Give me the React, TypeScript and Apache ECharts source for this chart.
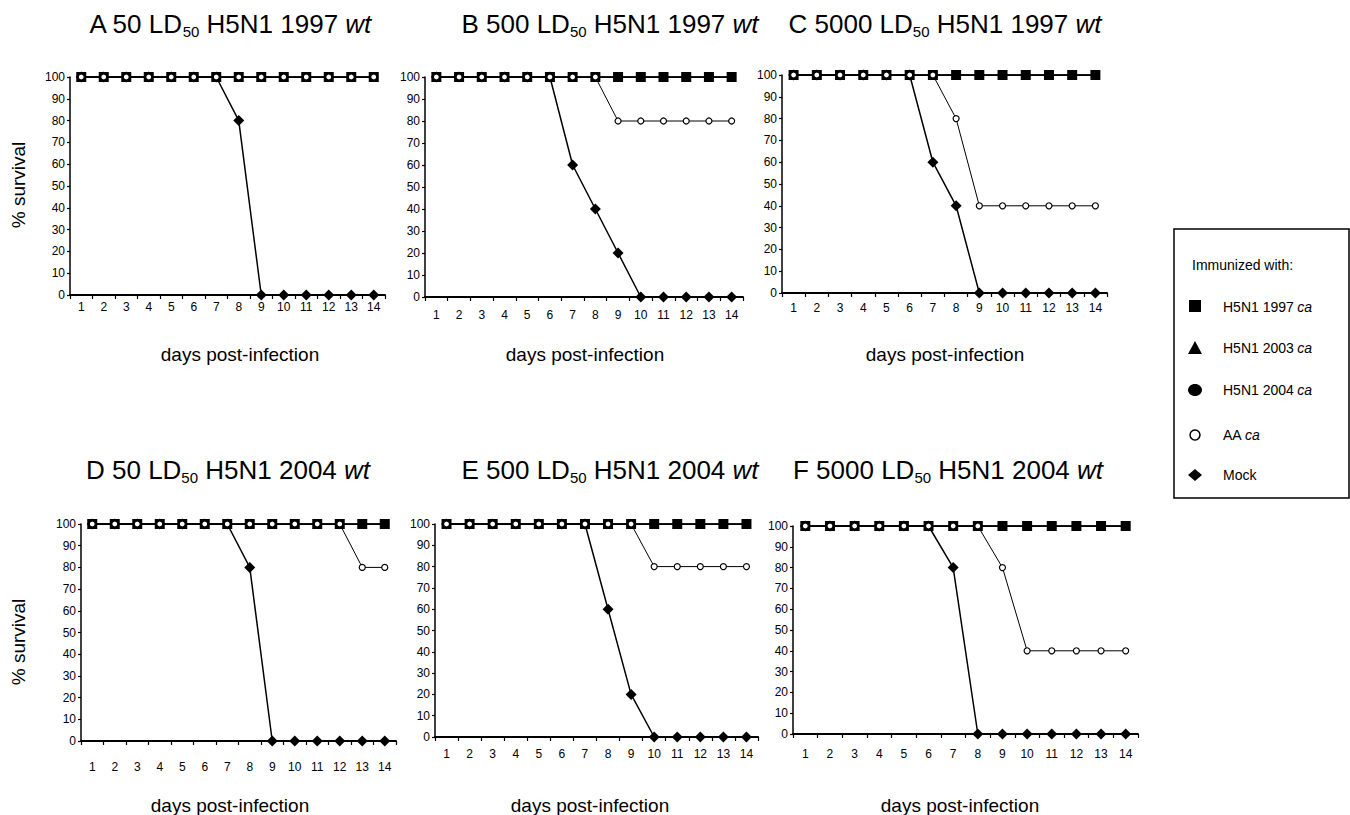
import React, { useEffect, useRef } from "react";
import * as echarts from "echarts";

const days = ["1", "2", "3", "4", "5", "6", "7", "8", "9", "10", "11", "12", "13", "14"];
const yTicks = [0, 10, 20, 30, 40, 50, 60, 70, 80, 90, 100];

// Protected groups (all panels)
const h5n1_1997 = [100, 100, 100, 100, 100, 100, 100, 100, 100, 100, 100, 100, 100, 100];
const h5n1_2003 = [100, 100, 100, 100, 100, 100, 100, 100, 100, 100, 100, 100, 100, 100];
const h5n1_2004 = [100, 100, 100, 100, 100, 100, 100, 100, 100, 100, 100, 100, 100, 100];

// Panel A
const aAA = [100, 100, 100, 100, 100, 100, 100, 100, 100, 100, 100, 100, 100, 100];
const aMock = [100, 100, 100, 100, 100, 100, 100, 80, 0, 0, 0, 0, 0, 0];
// Panel B
const bAA = [100, 100, 100, 100, 100, 100, 100, 100, 80, 80, 80, 80, 80, 80];
const bMock = [100, 100, 100, 100, 100, 100, 60, 40, 20, 0, 0, 0, 0, 0];
// Panel C
const cAA = [100, 100, 100, 100, 100, 100, 100, 80, 40, 40, 40, 40, 40, 40];
const cMock = [100, 100, 100, 100, 100, 100, 60, 40, 0, 0, 0, 0, 0, 0];
// Panel D
const dAA = [100, 100, 100, 100, 100, 100, 100, 100, 100, 100, 100, 100, 80, 80];
const dMock = [100, 100, 100, 100, 100, 100, 100, 80, 0, 0, 0, 0, 0, 0];
// Panel E
const eAA = [100, 100, 100, 100, 100, 100, 100, 100, 100, 80, 80, 80, 80, 80];
const eMock = [100, 100, 100, 100, 100, 100, 100, 60, 20, 0, 0, 0, 0, 0];
// Panel F
const fAA = [100, 100, 100, 100, 100, 100, 100, 100, 80, 40, 40, 40, 40, 40];
const fMock = [100, 100, 100, 100, 100, 100, 80, 0, 0, 0, 0, 0, 0, 0];

const panelLetters = ["A", "B", "C", "D", "E", "F"];
const panelDoses = ["50", "500", "5000", "50", "500", "5000"];
const panelStrains = ["1997", "1997", "1997", "2004", "2004", "2004"];
const aaSeries = [aAA, bAA, cAA, dAA, eAA, fAA];
const mockSeries = [aMock, bMock, cMock, dMock, eMock, fMock];

const legendNames = ["H5N1 1997", "H5N1 2003", "H5N1 2004", "AA", "Mock"];

// layout (pixels)
const grids = [
  { left: 70, top: 77, width: 315, height: 218 },
  { left: 425, top: 77, width: 318, height: 220 },
  { left: 782, top: 75, width: 325, height: 218 },
  { left: 81, top: 524, width: 315, height: 217 },
  { left: 435, top: 524, width: 323, height: 213 },
  { left: 793, top: 526, width: 345, height: 208 },
];
const xLabelMargins = [6, 12, 9, 20, 11, 14];
const titlePos = [
  [230, 24], [610, 24], [945, 24],
  [228, 470], [610, 470], [948, 470],
];
const xNamePos = [
  [240, 354], [585, 354], [945, 354],
  [230, 805], [590, 805], [960, 805],
];

const FONT = "'Liberation Sans', Arial, Helvetica, sans-serif";
const NARROW = "'Liberation Sans Narrow', 'Liberation Sans', Arial, sans-serif";

export default function App() {
  const ref = useRef<HTMLDivElement>(null);

  useEffect(() => {
    if (!ref.current) return;
    const chart = echarts.init(ref.current, undefined, { renderer: "svg" });

    const xAxis: any[] = [];
    const yAxis: any[] = [];
    const grid: any[] = [];
    const series: any[] = [];
    const graphic: any[] = [];

    for (let i = 0; i < 6; i++) {
      grid.push({ ...grids[i], containLabel: false });
      xAxis.push({
        type: "category",
        gridIndex: i,
        data: days,
        boundaryGap: true,
        axisLine: { show: true, lineStyle: { color: "#000", width: 2 } },
        axisTick: { show: true, length: 4, lineStyle: { color: "#000", width: 1.2 } },
        axisLabel: {
          interval: 0,
          color: "#000",
          fontSize: 12,
          fontFamily: NARROW,
          margin: xLabelMargins[i],
        },
        splitLine: { show: false },
      });
      yAxis.push({
        type: "value",
        gridIndex: i,
        min: 0,
        max: 100,
        interval: 10,
        axisLine: { show: true, lineStyle: { color: "#000", width: 1.5 } },
        axisTick: { show: true, length: 3, lineStyle: { color: "#000", width: 1.2 } },
        axisLabel: { color: "#000", fontSize: 12, fontFamily: NARROW, margin: 5 },
        splitLine: { show: false },
      });

      const common = {
        type: "line",
        xAxisIndex: i,
        yAxisIndex: i,
        showSymbol: true,
        showAllSymbol: true,
        silent: true,
        emphasis: { disabled: true },
      };
      series.push({
        ...common,
        name: "Mock",
        data: mockSeries[i],
        symbol: "diamond",
        symbolSize: 11,
        lineStyle: { color: "#000", width: 1.5 },
        itemStyle: { color: "#000" },
      });
      series.push({
        ...common,
        name: "H5N1 2004",
        data: h5n1_2004,
        symbol: "circle",
        symbolSize: 9,
        lineStyle: { color: "#000", width: 1.5 },
        itemStyle: { color: "#000" },
      });
      series.push({
        ...common,
        name: "H5N1 2003",
        data: h5n1_2003,
        symbol: "triangle",
        symbolSize: 9,
        lineStyle: { color: "#000", width: 1.5 },
        itemStyle: { color: "#000" },
      });
      series.push({
        ...common,
        name: "H5N1 1997",
        data: h5n1_1997,
        symbol: "rect",
        symbolSize: 10,
        lineStyle: { color: "#000", width: 1.5 },
        itemStyle: { color: "#000" },
      });
      series.push({
        ...common,
        name: "AA",
        data: aaSeries[i],
        symbol: "circle",
        symbolSize: 6,
        lineStyle: { color: "#000", width: 1 },
        itemStyle: { color: "#fff", borderColor: "#000", borderWidth: 1.2 },
      });

      // panel title
      graphic.push({
        type: "text",
        x: titlePos[i][0],
        y: titlePos[i][1],
        silent: true,
        style: {
          text: `{m|${panelLetters[i]} ${panelDoses[i]} LD}{s|50}{m| H5N1 ${panelStrains[i]} }{i|wt}`,
          align: "center",
          verticalAlign: "middle",
          fill: "#000",
          rich: {
            m: { fontSize: 26, fontFamily: FONT, lineHeight: 30, fill: "#000" },
            s: { fontSize: 15, fontFamily: FONT, lineHeight: 12, verticalAlign: "bottom", fill: "#000" },
            i: { fontSize: 26, fontFamily: FONT, fontStyle: "italic", lineHeight: 30, fill: "#000" },
          },
        },
      });
      // x axis name
      graphic.push({
        type: "text",
        x: xNamePos[i][0],
        y: xNamePos[i][1],
        silent: true,
        style: {
          text: "days post-infection",
          align: "center",
          verticalAlign: "middle",
          fontSize: 19,
          fontFamily: FONT,
          fill: "#000",
        },
      });
    }

    // y axis names
    [185, 642].forEach((yy) => {
      graphic.push({
        type: "text",
        x: 18,
        y: yy,
        rotation: Math.PI / 2,
        silent: true,
        style: {
          text: "% survival",
          align: "center",
          verticalAlign: "middle",
          fontSize: 19,
          fontFamily: FONT,
          fill: "#000",
        },
      });
    });

    // legend box
    const lx = 1195;
    const tx = 1223;
    const ys = [307, 348, 390, 435, 475];
    graphic.push({
      type: "rect",
      silent: true,
      shape: { x: 1174, y: 229, width: 175, height: 269 },
      style: { fill: "#fff", stroke: "#000", lineWidth: 1.5 },
    });
    graphic.push({
      type: "text",
      x: 1192,
      y: 265,
      silent: true,
      style: { text: "Immunized with:", fontSize: 14, fontFamily: FONT, fill: "#000", verticalAlign: "middle" },
    });
    graphic.push({
      type: "rect",
      silent: true,
      shape: { x: lx - 6, y: ys[0] - 7, width: 12, height: 12 },
      style: { fill: "#000" },
    });
    graphic.push({
      type: "polygon",
      silent: true,
      shape: { points: [[lx, ys[1] - 7], [lx - 7, ys[1] + 6], [lx + 7, ys[1] + 6]] },
      style: { fill: "#000" },
    });
    graphic.push({
      type: "ellipse",
      silent: true,
      shape: { cx: lx, cy: ys[2], rx: 7, ry: 6 },
      style: { fill: "#000" },
    });
    graphic.push({
      type: "circle",
      silent: true,
      shape: { cx: lx, cy: ys[3], r: 5 },
      style: { fill: "#fff", stroke: "#000", lineWidth: 1.5 },
    });
    graphic.push({
      type: "polygon",
      silent: true,
      shape: { points: [[lx, ys[4] - 6], [lx + 7, ys[4]], [lx, ys[4] + 6], [lx - 7, ys[4]]] },
      style: { fill: "#000" },
    });
    legendNames.forEach((n, k) => {
      const italic = k < 4 ? " {i|ca}" : "";
      graphic.push({
        type: "text",
        x: tx,
        y: ys[k],
        silent: true,
        style: {
          text: `{n|${n}}${italic}`,
          verticalAlign: "middle",
          fill: "#000",
          rich: {
            n: { fontSize: 14, fontFamily: FONT, fill: "#000" },
            i: { fontSize: 14, fontFamily: FONT, fontStyle: "italic", fill: "#000" },
          },
        },
      });
    });

    chart.setOption({
      animation: false,
      backgroundColor: "#fff",
      grid,
      xAxis,
      yAxis,
      series,
      graphic,
    });

    return () => chart.dispose();
  }, []);

  return <div ref={ref} style={{ width: 1350, height: 815, position: "absolute", left: 0, top: 0 }} />;
}
